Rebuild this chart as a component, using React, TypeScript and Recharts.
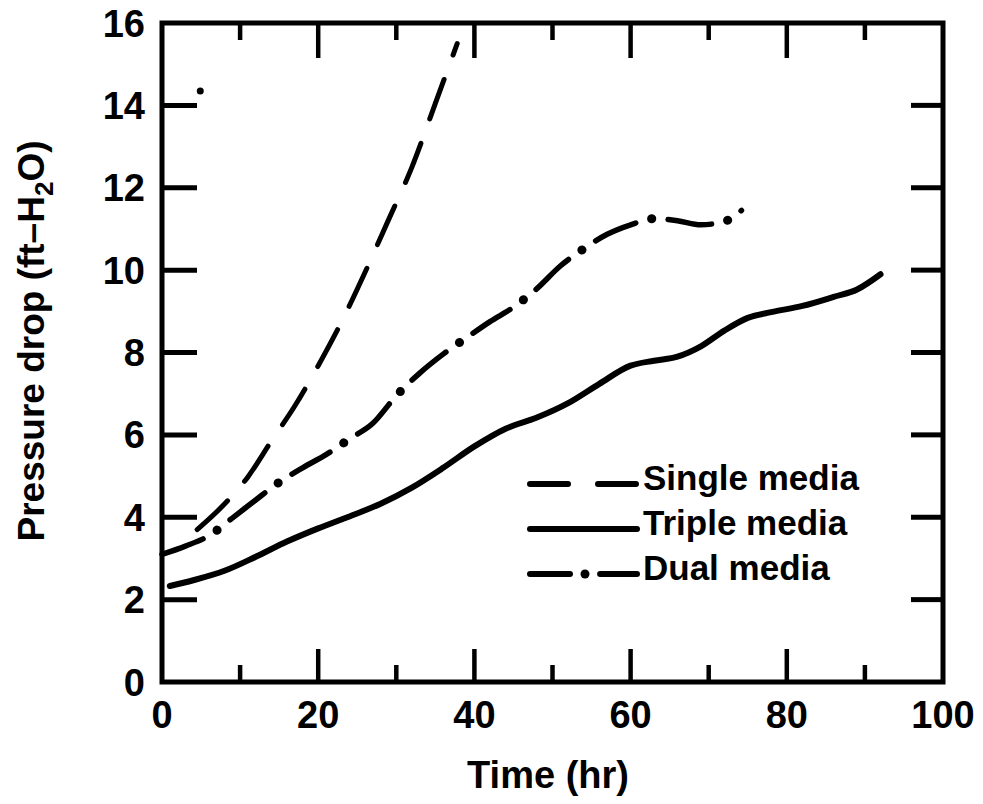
import { LineChart, Line, XAxis, YAxis, ReferenceArea, ReferenceLine } from "recharts";

// values (time in hr, pressure drop in ft-H2O)
const singleTime = [4.5, 8, 11, 14, 17, 20, 23, 26, 29, 32, 35, 37.8];
const singleDrop = [3.7, 4.32, 4.98, 5.85, 6.7, 7.68, 8.75, 9.95, 11.22, 12.5, 14.05, 15.5];

const tripleTime = [1, 4, 8, 12, 16, 20, 24, 28, 32, 36, 40, 44, 48, 52, 56, 60, 63, 66, 69, 72, 75, 78, 82, 86, 89, 92];
const tripleDrop = [2.33, 2.47, 2.7, 3.04, 3.41, 3.73, 4.02, 4.33, 4.72, 5.2, 5.72, 6.15, 6.42, 6.77, 7.24, 7.68, 7.8, 7.9, 8.15, 8.53, 8.84, 8.98, 9.13, 9.35, 9.53, 9.9];

const dualTime = [0, 3, 6, 9, 12, 15, 18, 21, 24, 27, 30, 33, 36, 39, 42, 45, 48, 51, 54, 57, 60, 63, 66, 69, 72, 74.2];
const dualDrop = [3.1, 3.3, 3.55, 3.98, 4.42, 4.85, 5.2, 5.52, 5.9, 6.28, 6.95, 7.5, 7.96, 8.36, 8.75, 9.1, 9.55, 10.1, 10.52, 10.87, 11.1, 11.25, 11.2, 11.1, 11.18, 11.45];

// the lone speck printed near the 14 tick
const speckTime = [4.9];
const speckDrop = [14.35];

const xMajor = [0, 20, 40, 60, 80, 100];
const xInner = [10, 20, 30, 40, 50, 60, 70, 80, 90];
const yTicks = [0, 2, 4, 6, 8, 10, 12, 14, 16];
const yInner = [2, 4, 6, 8, 10, 12, 14];

const legendItems = [
  { label: "Single media", dash: "38 30", dot: false },
  { label: "Triple media", dash: undefined, dot: false },
  { label: "Dual media", dash: "40 15 0.1 15", dot: true },
];

const FONT = '"Liberation Sans", Arial, Helvetica, sans-serif';
const INK = "#000";

// plot box in px (matches the chart margins below)
const PLOT_L = 162;
const PLOT_T = 23;
const PLOT_W = 781;
const PLOT_H = 659;
const pxX = (px: number) => (px * 100) / PLOT_W;
const pxY = (px: number) => (px * 16) / PLOT_H;
const sx = (t: number) => PLOT_L + (t / 100) * PLOT_W;
const sy = (v: number) => PLOT_T + PLOT_H - (v / 16) * PLOT_H;

const pts = (ts: number[], vs: number[]) => ts.map((t, i) => ({ t, v: vs[i] }));

function XLabel({ x, y, payload }: any) {
  return (
    <text x={x} y={y + 46} textAnchor="middle" fontFamily={FONT} fontWeight={700} fontSize={38} fill={INK}>
      {payload.value}
    </text>
  );
}

function YLabel({ x, y, payload }: any) {
  return (
    <text x={x - 17} y={y + 13.5} textAnchor="end" fontFamily={FONT} fontWeight={700} fontSize={38} fill={INK}>
      {payload.value}
    </text>
  );
}

export default function App() {
  return (
    <div style={{ position: "relative", width: 983, height: 804, margin: -8, background: "#fff" }}>
      <LineChart width={983} height={804} margin={{ top: 23, right: 40, bottom: 121, left: 161 }}>
        <XAxis
          dataKey="t"
          type="number"
          domain={[0, 100]}
          ticks={xMajor}
          interval={0}
          height={1}
          tickSize={0}
          tickMargin={0}
          axisLine={false}
          tickLine={false}
          tick={<XLabel />}
        />
        <YAxis
          dataKey="v"
          type="number"
          domain={[0, 16]}
          ticks={yTicks}
          interval={0}
          width={1}
          tickSize={0}
          tickMargin={0}
          axisLine={false}
          tickLine={false}
          tick={<YLabel />}
        />
        <ReferenceArea x1={0} x2={100} y1={0} y2={16} fill="none" stroke={INK} strokeWidth={5} ifOverflow="visible" />
        {xInner.map((t) => (
          <ReferenceLine
            key={`b${t}`}
            segment={[{ x: t, y: 0 }, { x: t, y: pxY(t % 20 === 0 ? 33 : 17) }]}
            stroke={INK}
            strokeWidth={4.5}
            ifOverflow="visible"
          />
        ))}
        {yInner.map((v) => (
          <ReferenceLine
            key={`r${v}`}
            segment={[{ x: 100, y: v }, { x: 100 - pxX(32), y: v }]}
            stroke={INK}
            strokeWidth={5}
            ifOverflow="visible"
          />
        ))}
        <Line
          data={pts(tripleTime, tripleDrop)}
          dataKey="v"
          type="monotone"
          stroke={INK}
          strokeWidth={6}
          strokeLinecap="round"
          dot={false}
          isAnimationActive={false}
        />
        <Line
          data={pts(dualTime, dualDrop)}
          dataKey="v"
          type="monotone"
          stroke={INK}
          strokeWidth={5.5}
          strokeDasharray="44 16 1 16"
          strokeLinecap="round"
          dot={false}
          isAnimationActive={false}
        />
        {/* heavier dots of the dash-dot pattern */}
        <Line
          data={pts(dualTime, dualDrop)}
          dataKey="v"
          type="monotone"
          stroke={INK}
          strokeWidth={9}
          strokeDasharray="0.1 76.9"
          strokeDashoffset={16.5}
          strokeLinecap="round"
          dot={false}
          isAnimationActive={false}
        />
        <Line
          data={pts(singleTime, singleDrop)}
          dataKey="v"
          type="monotone"
          stroke={INK}
          strokeWidth={5}
          strokeDasharray="42 26"
          strokeLinecap="round"
          dot={false}
          isAnimationActive={false}
        />
        <Line
          data={pts(speckTime, speckDrop)}
          dataKey="v"
          stroke="none"
          dot={{ r: 3.5, fill: INK, stroke: "none" }}
          isAnimationActive={false}
        />
      </LineChart>
      <svg
        width={983}
        height={804}
        style={{ position: "absolute", left: 0, top: 0, pointerEvents: "none" }}
      >
        {/* inward tick marks on the top and left edges */}
        {xInner.map((t) => (
          <line
            key={`t${t}`}
            x1={sx(t)}
            x2={sx(t)}
            y1={PLOT_T}
            y2={PLOT_T + (t % 20 === 0 ? 35 : 17)}
            stroke={INK}
            strokeWidth={4.5}
          />
        ))}
        {yInner.map((v) => (
          <line key={`l${v}`} x1={PLOT_L} x2={PLOT_L + 35} y1={sy(v)} y2={sy(v)} stroke={INK} strokeWidth={5} />
        ))}
        <text
          x={44}
          y={341}
          transform="rotate(-90 44 341)"
          textAnchor="middle"
          fontFamily={FONT}
          fontWeight={700}
          fontSize={37}
          fill={INK}
        >
          Pressure drop (ft–H
          <tspan fontSize={26} dy={9}>2</tspan>
          <tspan dy={-9}>O)</tspan>
        </text>
        <text x={548} y={788} textAnchor="middle" fontFamily={FONT} fontWeight={700} fontSize={38} fill={INK}>
          Time (hr)
        </text>
        {legendItems.map((item, i) => {
          const ly = 484 + i * 45;
          return (
            <g key={item.label}>
              <line
                x1={530}
                x2={637}
                y1={ly}
                y2={ly}
                stroke={INK}
                strokeWidth={6}
                strokeLinecap="round"
                strokeDasharray={item.dash}
              />
              {item.dot && <circle cx={585} cy={ly} r={4.5} fill={INK} />}
              <text x={643} y={ly + 6} fontFamily={FONT} fontWeight={700} fontSize={35} fill={INK}>
                {item.label}
              </text>
            </g>
          );
        })}
      </svg>
    </div>
  );
}
